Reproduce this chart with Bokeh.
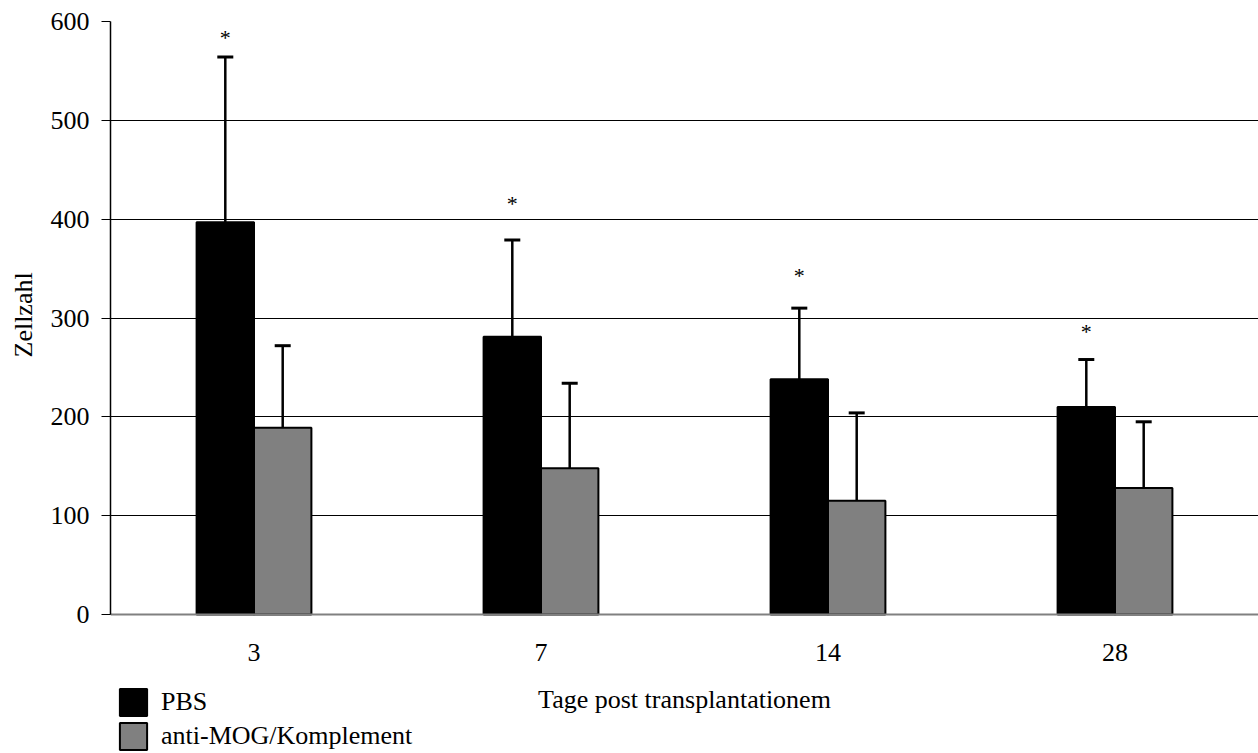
from bokeh.plotting import figure
from bokeh.models import (ColumnDataSource, FactorRange, Range1d, Whisker, TeeHead, Legend, LegendItem,
                          FixedTicker, Title)
from bokeh.transform import dodge
from bokeh.core.properties import value
from bokeh.embed import file_html
from bokeh.resources import INLINE

days = ["3", "7", "14", "28"]
pbs = [397, 281, 238, 210]
pbs_err_top = [564, 379, 310, 258]
mog = [189, 148, 115, 128]
mog_err_top = [272, 234, 204, 195]
stars = [584, 416, 343, 286]
series_names = ["PBS", "anti-MOG/Komplement"]
y_ticks = [0, 100, 200, 300, 400, 500, 600]

FONT = "Liberation Serif"
FS = "26px"

src = ColumnDataSource(dict(day=days, pbs=pbs, pbs_up=pbs_err_top, mog=mog, mog_up=mog_err_top,
                            star=stars, star_txt=["*"] * len(days)))

# frame extends below zero so that the legend and axis texts live inside it
p = figure(x_range=FactorRange(*days), y_range=Range1d(-140.6, 600), width=1258, height=753,
           output_backend="svg", toolbar_location=None,
           min_border_left=110, min_border_right=0, min_border_top=21, min_border_bottom=0)

W = 0.2
r1 = p.vbar(x=dodge("day", -W / 2, range=p.x_range), top="pbs", bottom=0, width=W, source=src,
            fill_color="black", line_color="black", line_width=2)
r2 = p.vbar(x=dodge("day", W / 2, range=p.x_range), top="mog", bottom=0, width=W, source=src,
            fill_color="#808080", line_color="black", line_width=2)

for col_top, col_up, off in (("pbs", "pbs_up", -W / 2), ("mog", "mog_up", W / 2)):
    wk = Whisker(base=dodge("day", off, range=p.x_range), lower=col_top, upper=col_up, source=src,
                 line_color="black", line_width=2.5, lower_head=None,
                 upper_head=TeeHead(size=16, line_width=3, line_color="black"))
    p.add_layout(wk)

p.text(x=dodge("day", -W / 2, range=p.x_range), y="star", text="star_txt", source=src,
       text_font=value(FONT), text_font_size="22px", text_align="center", text_baseline="middle",
       text_color="black")

p.yaxis.ticker = FixedTicker(ticks=y_ticks)
p.yaxis.bounds = (0, 600)
p.ygrid.ticker = FixedTicker(ticks=y_ticks)
p.ygrid.grid_line_color = "black"
p.ygrid.grid_line_width = 1
p.xgrid.grid_line_color = None
p.outline_line_color = None
p.background_fill_color = "white"
p.border_fill_color = "white"

p.yaxis.major_label_text_font = FONT
p.yaxis.major_label_text_font_size = FS
p.yaxis.major_label_text_color = "black"
p.yaxis.major_label_standoff = 12
p.yaxis.major_tick_out = 9
p.yaxis.major_tick_in = 0
p.yaxis.minor_tick_line_color = None
p.yaxis.axis_line_color = "black"
p.yaxis.axis_line_width = 1.5
p.yaxis.major_tick_line_color = "black"

ytitle = Title(text="Zellzahl", align="left", vertical_align="top", offset=396, standoff=16,
               text_font=FONT, text_font_size=FS, text_font_style="normal", text_color="black")
p.add_layout(ytitle, "left")

p.xaxis.fixed_location = 0
p.xaxis.axis_label = "Tage post transplantationem"
p.xaxis.axis_label_text_font = FONT
p.xaxis.axis_label_text_font_style = "normal"
p.xaxis.axis_label_text_font_size = FS
p.xaxis.axis_label_text_color = "black"
p.xaxis.axis_label_standoff = 21
p.xaxis.major_label_text_font = FONT
p.xaxis.major_label_text_font_size = FS
p.xaxis.major_label_text_color = "black"
p.xaxis.major_label_standoff = 29
p.xaxis.major_tick_line_color = None
p.xaxis.major_tick_out = 0
p.xaxis.axis_line_color = "#808080"
p.xaxis.axis_line_width = 2

legend = Legend(items=[LegendItem(label=series_names[0], renderers=[r1]),
                       LegendItem(label=series_names[1], renderers=[r2])],
                location=(6, 0), orientation="vertical", margin=0, padding=0, spacing=0,
                glyph_width=34, glyph_height=34, label_height=34, label_standoff=11,
                label_text_font=FONT, label_text_font_size=FS, label_text_color="black",
                border_line_color=None, background_fill_alpha=0)
p.add_layout(legend)

open("out.html", "w").write(file_html(p, INLINE))
